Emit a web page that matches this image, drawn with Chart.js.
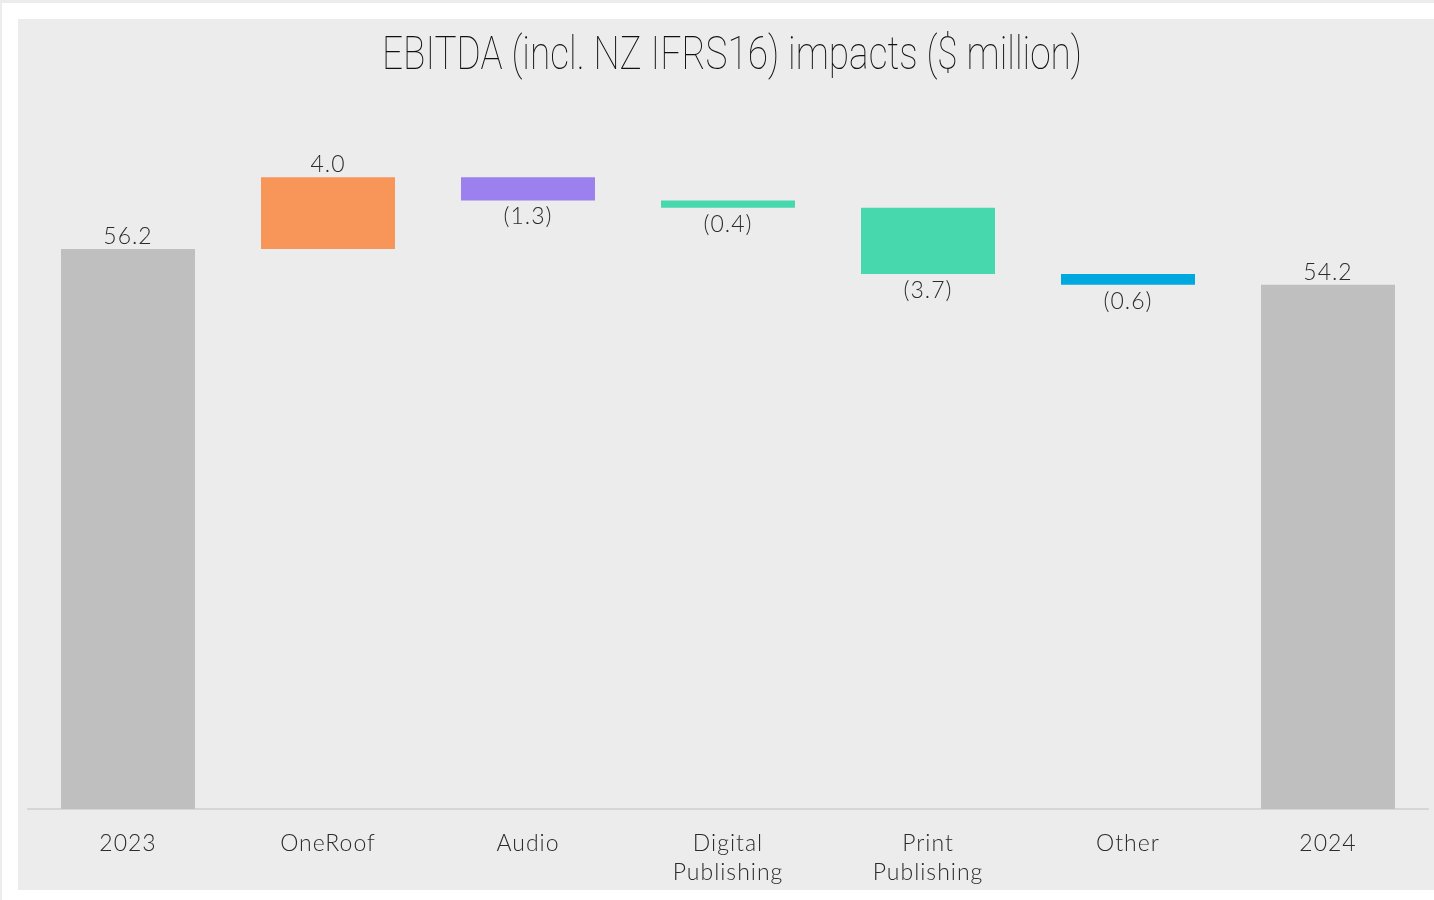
<!DOCTYPE html>
<html>
<head>
<meta charset="utf-8">
<script src="https://cdn.jsdelivr.net/npm/chart.js@4"></script>
<style>
  html, body { margin: 0; padding: 0; background: #ffffff; }
  body { width: 1434px; height: 900px; position: relative; overflow: hidden; border-top: 3px solid #ececec; border-left: 2px solid #ececec; box-sizing: border-box; }
  #panel { position: absolute; left: 16px; top: 16px; width: 1416px; height: 871px; background: #ececec; }
</style>
</head>
<body>
<div id="panel"><canvas id="ebitda_chart" width="1416" height="871"></canvas></div>
<script>
// EBITDA bridge, 2023 -> 2024 ($ million)
const categories = ["2023", "OneRoof", "Audio", ["Digital", "Publishing"], ["Print", "Publishing"], "Other", "2024"];
const amounts = [56.2, 4.0, -1.3, -0.4, -3.7, -0.6, 54.2];
const isTotal = [true, false, false, false, false, false, true];
const barColors = ["#bfbfbf", "#f8965a", "#9b80ee", "#47d8ae", "#47d8ae", "#00a8e0", "#bfbfbf"];
const chartTitle = "EBITDA (incl. NZ IFRS16) impacts ($ million)";

// build the floating [start, end] ranges
let running = 0;
const ranges = amounts.map((v, i) => {
    if (isTotal[i]) {
        running = v;
        return [0, v];
    }
    const start = running;
    running = +(running + v).toFixed(1);
    return [start, running];
});

function formatValue(v) {
    return v < 0 ? "(" + Math.abs(v).toFixed(1) + ")" : v.toFixed(1);
}

const fontFamily = "Lato, 'Open Sans', sans-serif";
const labelFont = "300 23px " + fontFamily;

// a little extra tracking for every text drawn on the canvas
const tracking = {
    id: "tracking",
    beforeLayout(chart) {
        chart.ctx.letterSpacing = "1px";
    },
    beforeDraw(chart) {
        chart.ctx.letterSpacing = "1px";
    },
};

// value labels: above the bar for totals and increases, below for decreases
const valueLabels = {
    id: "valueLabels",
    afterDatasetsDraw(chart) {
        const ctx = chart.ctx;
        const meta = chart.getDatasetMeta(0);
        ctx.save();
        ctx.font = labelFont;
        ctx.fillStyle = "#2b2b2b";
        ctx.textAlign = "center";
        meta.data.forEach((bar, i) => {
            const v = amounts[i];
            const top = Math.min(bar.y, bar.base);
            const bottom = Math.max(bar.y, bar.base);
            if (v >= 0) {
                ctx.textBaseline = "bottom";
                ctx.fillText(formatValue(v), bar.x, top - 1);
            } else {
                ctx.textBaseline = "top";
                ctx.fillText(formatValue(v), bar.x, bottom + 5);
            }
        });
        ctx.restore();
    },
};

// condensed light title
const condensedTitle = {
    id: "condensedTitle",
    afterDraw(chart) {
        const ctx = chart.ctx;
        ctx.save();
        ctx.letterSpacing = "0px";
        ctx.font = "100 46px Roboto, sans-serif";
        ctx.fillStyle = "#111111";
        ctx.textBaseline = "middle";
        ctx.textAlign = "center";
        const w = ctx.measureText(chartTitle).width;
        const sx = 700 / w;
        ctx.translate(714, 38);
        ctx.scale(sx, 1);
        ctx.fillText(chartTitle, 0, 0);
        ctx.restore();
    },
};

const ctxEbitda = document.getElementById("ebitda_chart").getContext("2d");
new Chart(ctxEbitda, {
    type: "bar",
    data: {
        labels: categories,
        datasets: [
            {
                data: ranges,
                backgroundColor: barColors,
                borderWidth: 0,
                borderSkipped: false,
                categoryPercentage: 1,
                barPercentage: 0.67,
            },
        ],
    },
    options: {
        responsive: false,
        animation: false,
        layout: {
            padding: { top: 72, left: 10, right: 6, bottom: 0 },
        },
        plugins: {
            legend: { display: false },
            tooltip: { enabled: false },
            title: { display: false },
        },
        scales: {
            x: {
                grid: { display: false },
                border: { color: "#d6d6d6", width: 2 },
                ticks: {
                    color: "#2b2b2b",
                    font: { family: fontFamily, size: 23, weight: 300, lineHeight: 1.25 },
                    padding: 12,
                    maxRotation: 0,
                },
                afterFit: (scale) => {
                    scale.height = 81;
                },
            },
            y: {
                display: false,
                min: 25,
                max: 65,
            },
        },
    },
    plugins: [tracking, valueLabels, condensedTitle],
});
</script>
</body>
</html>
